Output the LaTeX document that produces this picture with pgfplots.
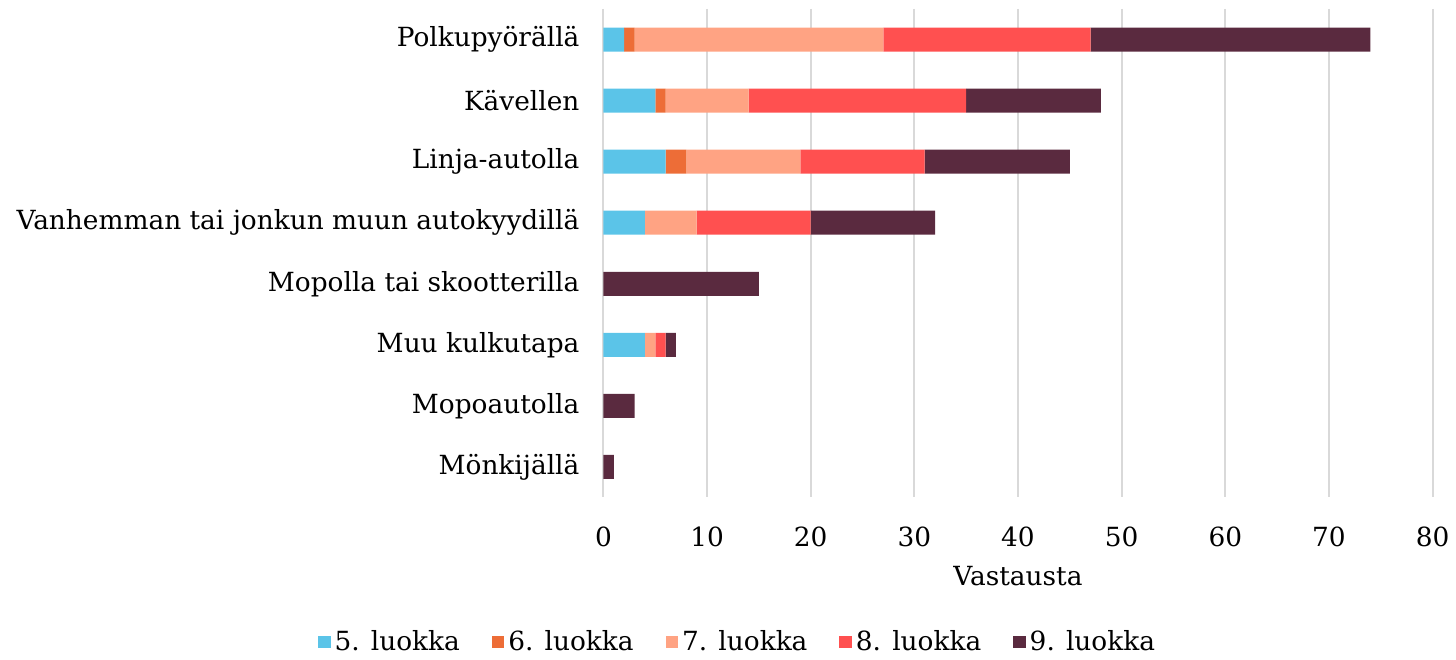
\documentclass[border=0pt]{standalone}
\usepackage{pgfplots}
\pgfplotsset{compat=1.18}
\usepackage{fontspec}
\setmainfont{DejaVu Serif}
\definecolor{c5}{HTML}{5BC4E8}
\definecolor{c6}{HTML}{ED6D37}
\definecolor{c7}{HTML}{FFA383}
\definecolor{c8}{HTML}{FF5050}
\definecolor{c9}{HTML}{5A2A3F}
\begin{document}
\begin{tikzpicture}
\begin{axis}[
    scale only axis,
    width=415pt, height=244.5pt,
    xbar stacked,
    bar width=12pt,
    xmin=0, xmax=80,
    ymin=-0.5, ymax=7.5,
    y dir=reverse,
    xtick={0,10,...,80},
    ytick={0,...,7},
    yticklabels={Polkupyörällä,Kävellen,Linja-autolla,Vanhemman tai jonkun muun autokyydillä,Mopolla tai skootterilla,Muu kulkutapa,Mopoautolla,Mönkijällä},
    xmajorgrids,
    grid style={draw=black!15, line width=1pt},
    axis line style={draw=none},
    tick style={draw=none},
    xlabel={Vastausta},
    xlabel style={yshift=-3pt},
    font=\fontsize{13.2}{15}\selectfont,
    ticklabel style={font=\fontsize{13.2}{15}\selectfont},
    /pgf/number format/assume math mode=true,
    xticklabel style={yshift=-11pt},
    yticklabel style={xshift=-8.5pt},
    legend style={at={(0.163,-0.296)}, anchor=center, draw=none, legend columns=5,
        font=\fontsize{13.2}{15}\selectfont, inner sep=1pt,
        /tikz/every even column/.append style={column sep=14pt}},
    legend image code/.code={\fill[#1] (0cm,-0.11cm) rectangle (0.22cm,0.11cm);},
]
\addplot[fill=c5, draw=none] coordinates {(2,0) (5,1) (6,2) (4,3) (0,4) (4,5) (0,6) (0,7)};
\addlegendentry{5. luokka}
\addplot[fill=c6, draw=none] coordinates {(1,0) (1,1) (2,2) (0,3) (0,4) (0,5) (0,6) (0,7)};
\addlegendentry{6. luokka}
\addplot[fill=c7, draw=none] coordinates {(24,0) (8,1) (11,2) (5,3) (0,4) (1,5) (0,6) (0,7)};
\addlegendentry{7. luokka}
\addplot[fill=c8, draw=none] coordinates {(20,0) (21,1) (12,2) (11,3) (0,4) (1,5) (0,6) (0,7)};
\addlegendentry{8. luokka}
\addplot[fill=c9, draw=none] coordinates {(27,0) (13,1) (14,2) (12,3) (15,4) (1,5) (3,6) (1,7)};
\addlegendentry{9. luokka}
\end{axis}
\path (current axis.north) ++(0,4.5pt);
\path (current bounding box.west) ++(-5pt,0);
\end{tikzpicture}
\end{document}
